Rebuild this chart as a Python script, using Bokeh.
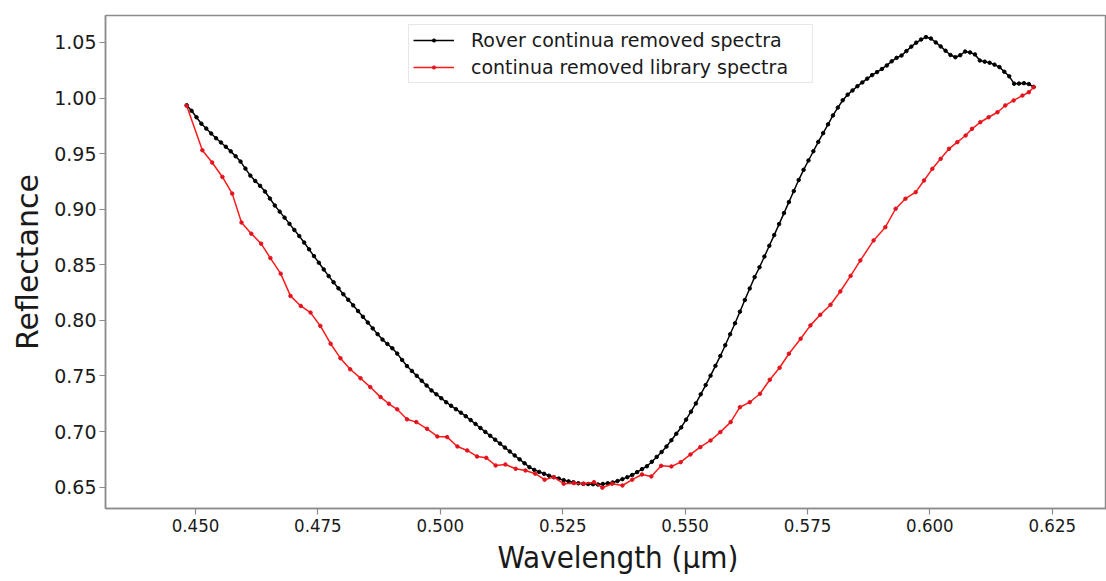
import numpy as np
from bokeh.plotting import figure
from bokeh.models import Range1d, FixedTicker, PrintfTickFormatter, Legend, LegendItem, Title
from bokeh.embed import file_html
from bokeh.resources import INLINE

# ---- data ----
black_start = 0.4482
black_step = 0.001
black_refl = [
    0.9935, 0.9885, 0.9827, 0.9769, 0.9725, 0.9681, 0.9638, 0.9600, 0.9561, 0.9520,
    0.9476, 0.9428, 0.9365, 0.9302, 0.9254, 0.9210, 0.9159, 0.9096, 0.9033, 0.8978,
    0.8924, 0.8868, 0.8813, 0.8758, 0.8700, 0.8639, 0.8578, 0.8518, 0.8458, 0.8398,
    0.8343, 0.8288, 0.8235, 0.8185, 0.8135, 0.8084, 0.8032, 0.7980, 0.7928, 0.7876,
    0.7827, 0.7788, 0.7749, 0.7701, 0.7644, 0.7589, 0.7545, 0.7501, 0.7457, 0.7414,
    0.7370, 0.7335, 0.7300, 0.7264, 0.7232, 0.7201, 0.7170, 0.7138, 0.7103, 0.7068,
    0.7032, 0.6997, 0.6962, 0.6927, 0.6892, 0.6856, 0.6821, 0.6785, 0.6750, 0.6715,
    0.6680, 0.6655, 0.6637, 0.6620, 0.6603, 0.6590, 0.6577, 0.6563, 0.6552, 0.6544,
    0.6535, 0.6530, 0.6528, 0.6526, 0.6524, 0.6529, 0.6535, 0.6542, 0.6555, 0.6572,
    0.6590, 0.6609, 0.6635, 0.6662, 0.6688, 0.6728, 0.6772, 0.6816, 0.6865, 0.6922,
    0.6980, 0.7037, 0.7107, 0.7179, 0.7253, 0.7335, 0.7418, 0.7503, 0.7591, 0.7680,
    0.7776, 0.7875, 0.7974, 0.8078, 0.8183, 0.8287, 0.8389, 0.8478, 0.8574, 0.8671,
    0.8767, 0.8866, 0.8965, 0.9064, 0.9163, 0.9262, 0.9354, 0.9438, 0.9521, 0.9605,
    0.9684, 0.9763, 0.9843, 0.9914, 0.9980, 1.0030, 1.0068, 1.0106, 1.0140, 1.0174,
    1.0206, 1.0233, 1.0261, 1.0293, 1.0330, 1.0361, 1.0382, 1.0422, 1.0462, 1.0498,
    1.0526, 1.0548, 1.0535, 1.0500, 1.0464, 1.0425, 1.0387, 1.0367, 1.0385, 1.0418,
    1.0410, 1.0392, 1.0337, 1.0327, 1.0317, 1.0300, 1.0278, 1.0236, 1.0195, 1.0129,
    1.0130, 1.0133, 1.0125, 1.0100,
]
black_wl = black_start + black_step * np.arange(len(black_refl))

red_wl = [
    0.4482, 0.4514, 0.4534, 0.4555, 0.4575, 0.4594, 0.4614, 0.4634, 0.4653, 0.4674,
    0.4694, 0.4715, 0.4735, 0.4755, 0.4776, 0.4796, 0.4816, 0.4837, 0.4857, 0.4878,
    0.4895, 0.4912, 0.4932, 0.4951, 0.4973, 0.4994, 0.5014, 0.5035, 0.5055, 0.5075,
    0.5094, 0.5113, 0.5133, 0.5154, 0.5174, 0.5194, 0.5213, 0.5232, 0.5252, 0.5273,
    0.5293, 0.5314, 0.5331, 0.5351, 0.5372, 0.5392, 0.5412, 0.5431, 0.5451, 0.5472,
    0.5491, 0.5511, 0.5531, 0.5552, 0.5572, 0.5593, 0.5612, 0.5632, 0.5653, 0.5673,
    0.5693, 0.5712, 0.5736, 0.5756, 0.5776, 0.5797, 0.5817, 0.5838, 0.5858, 0.5885,
    0.5909, 0.5930, 0.5950, 0.5971, 0.5988, 0.6005, 0.6022, 0.6039, 0.6056, 0.6073,
    0.6086, 0.6103, 0.6120, 0.6138, 0.6154, 0.6171, 0.6189, 0.6202, 0.6212,
]
red_refl = [
    0.9930, 0.9530, 0.9420, 0.9290, 0.9140, 0.8880, 0.8780, 0.8690, 0.8560, 0.8420,
    0.8220, 0.8130, 0.8070, 0.7950, 0.7790, 0.7660, 0.7560, 0.7480, 0.7400, 0.7310,
    0.7250, 0.7200, 0.7110, 0.7085, 0.7025, 0.6956, 0.6950, 0.6866, 0.6830, 0.6776,
    0.6764, 0.6695, 0.6704, 0.6665, 0.6650, 0.6621, 0.6567, 0.6590, 0.6531, 0.6536,
    0.6531, 0.6545, 0.6495, 0.6531, 0.6515, 0.6567, 0.6614, 0.6596, 0.6692, 0.6686,
    0.6725, 0.6794, 0.6860, 0.6920, 0.6995, 0.7085, 0.7219, 0.7264, 0.7340, 0.7466,
    0.7574, 0.7700, 0.7835, 0.7955, 0.8050, 0.8140, 0.8260, 0.8400, 0.8539, 0.8719,
    0.8838, 0.9004, 0.9094, 0.9153, 0.9258, 0.9363, 0.9453, 0.9543, 0.9603, 0.9663,
    0.9723, 0.9782, 0.9827, 0.9872, 0.9933, 0.9978, 1.0022, 1.0052, 1.0097,
]

x_ticks = [0.450, 0.475, 0.500, 0.525, 0.550, 0.575, 0.600, 0.625]
y_ticks = [0.65, 0.70, 0.75, 0.80, 0.85, 0.90, 0.95, 1.00, 1.05]

label_black = "Rover continua removed spectra"
label_red = "continua removed library spectra"
x_title = "Wavelength (µm)"
y_title = "Reflectance"

# ---- figure ----
p = figure(width=1106, height=581, output_backend="svg", toolbar_location=None,
           x_range=Range1d(0.43162, 0.63607), y_range=Range1d(0.6308, 1.0742),
           min_border_left=105, min_border_right=0, min_border_top=15, min_border_bottom=73)

p.background_fill_color = "white"
p.border_fill_color = "white"
p.xgrid.visible = False
p.ygrid.visible = False
p.outline_line_color = "#8c8c8c"
p.outline_line_width = 1.5

FRAME = "#8c8c8c"
for ax in (p.xaxis[0], p.yaxis[0]):
    ax.axis_line_color = FRAME
    ax.axis_line_width = 1.5
    ax.major_tick_line_color = FRAME
    ax.major_tick_line_width = 1.2
    ax.major_tick_out = 6
    ax.major_tick_in = 0
    ax.minor_tick_line_color = None
    ax.axis_label_text_font_style = "normal"
    ax.axis_label_text_color = "#1a1a1a"
    ax.major_label_text_color = "#1a1a1a"

p.xaxis.ticker = FixedTicker(ticks=x_ticks)
p.xaxis.formatter = PrintfTickFormatter(format="%.3f")
p.xaxis.major_label_text_font = "DejaVu Sans Condensed"
p.xaxis.major_label_text_font_size = "18.5px"
p.xaxis.major_label_standoff = 4

p.yaxis.ticker = FixedTicker(ticks=y_ticks)
p.yaxis.formatter = PrintfTickFormatter(format="%.2f")
p.yaxis.major_label_text_font = "DejaVu Sans"
p.yaxis.major_label_text_font_size = "19px"
p.yaxis.major_label_standoff = 3
p.yaxis.axis_label = y_title
p.yaxis.axis_label_text_font = "DejaVu Sans"
p.yaxis.axis_label_text_font_size = "30px"
p.yaxis.axis_label_standoff = 6

# x-axis title as a below-panel title, placed where the reference centres it
xt = Title(text=x_title, align="left", offset=392, standoff=4,
           text_font="DejaVu Sans Condensed", text_font_size="31px",
           text_font_style="normal", text_color="#1a1a1a")
p.add_layout(xt, "below")

bl = p.line(black_wl, black_refl, line_color="black", line_width=1.5)
bs = p.scatter(black_wl, black_refl, size=3.5, fill_color="black", line_color="black")
rl = p.line(red_wl, red_refl, line_color="#ff1a1a", line_width=1.5)
rs = p.scatter(red_wl, red_refl, size=3.5, fill_color="#e0141e", line_color="#e0141e")

legend = Legend(items=[LegendItem(label=label_black, renderers=[bl, bs]),
                       LegendItem(label=label_red, renderers=[rl, rs])],
                location=(303, 425))
legend.label_text_font = "DejaVu Sans"
legend.label_text_font_size = "19px"
legend.label_text_color = "#1a1a1a"
legend.glyph_width = 41
legend.glyph_height = 8
legend.label_height = 20
legend.label_width = 337
legend.label_standoff = 17
legend.spacing = 5
legend.padding = 4
legend.border_line_color = "#d0d0d0"
legend.border_line_width = 1
legend.background_fill_alpha = 0.9
p.add_layout(legend, "center")

open("out.html", "w").write(file_html(p, INLINE))
